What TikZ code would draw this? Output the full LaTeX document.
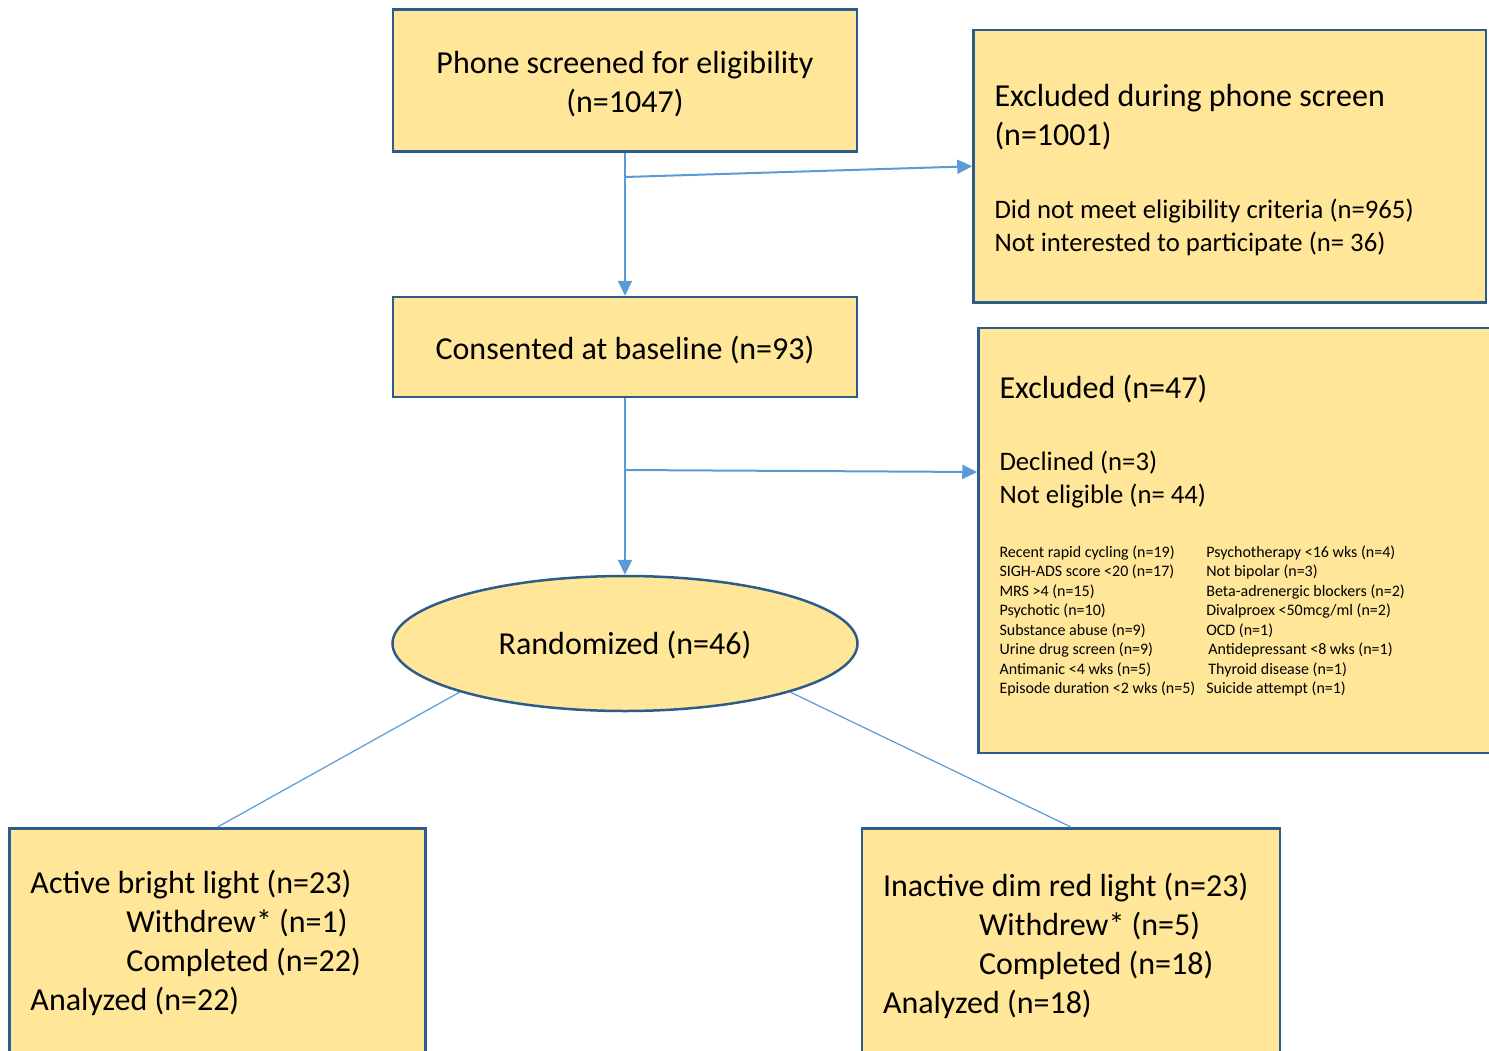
\documentclass[tikz,border=0pt]{standalone}
\usepackage{fontspec}
\setmainfont{Carlito}
\usepackage{xcolor}
\usepackage{tikz}
\usetikzlibrary{shapes.geometric, arrows.meta}
\definecolor{boxfill}{HTML}{FFE699}
\definecolor{boxline}{HTML}{2E5C8A}
\definecolor{arrowblue}{HTML}{5B9BD5}
\newcommand{\bigtxt}{\fontsize{32}{39}\selectfont}
\newcommand{\medtxt}{\fontsize{26.7}{33}\selectfont}
\newcommand{\smalltxt}{\fontsize{16}{19.5}\selectfont}
\newcommand{\topstrut}[1]{\rule{0pt}{#1}}
\tikzstyle{process} = [rectangle, minimum width=464pt, inner sep=0pt, align=center, font=\bigtxt, draw=boxline, line width=2.5pt, fill=boxfill]
\tikzstyle{textbox} = [rectangle, inner xsep=21pt, inner ysep=0pt, align=flush left, font=\bigtxt, draw=boxline, line width=2.5pt, fill=boxfill]
\tikzstyle{startstop} = [ellipse, minimum width=465pt, minimum height=135pt, inner sep=0pt, font=\bigtxt, draw=boxline, line width=2.5pt, fill=boxfill]
\tikzstyle{arrow} = [line width=2pt, -{Triangle[length=15pt,width=14pt]}, draw=arrowblue]
\tikzstyle{thinline} = [line width=1.2pt, draw=arrowblue]

\begin{document}
\begin{tikzpicture}[x=1pt, y=-1pt]
		\useasboundingbox (0,0) rectangle (1489,1051);
		\clip (0,0) rectangle (1489,1051);
		
		% Nodes for main flow
		\node (screen) [process, minimum height=142pt] at (625,80.5) {\topstrut{28.5pt}Phone screened for eligibility\\(n=1047)};
		\node (consent) [process, minimum height=100pt] at (625,347) {\topstrut{30pt}Consented at baseline (n=93)};
		\node (rand) [startstop] at (625,643.5) {\topstrut{27pt}Randomized (n=46)};
		
		% Nodes for exclusions
		\node (excl1) [textbox, minimum width=512.5pt, minimum height=272.5pt, text width=470.5pt] at (1229.75,166.25) {%
			\topstrut{29.5pt}Excluded during phone screen\\(n=1001)\par
			\vspace{39.6pt}
			{\medtxt Did not meet eligibility criteria (n=965)\\Not interested to participate (n= 36)\par}};
		\node (excl2) [textbox, minimum width=540pt, minimum height=425pt, text width=498pt] at (1248.5,540.5) {%
			Excluded (n=47)\par
			\vspace{38.6pt}
			{\medtxt Declined (n=3)\\Not eligible (n= 44)\par}
			\vspace{34pt}
			{\smalltxt\begin{tabular}[t]{@{}l@{\hspace{11pt}}l@{}}
				Recent rapid cycling (n=19) & Psychotherapy <16 wks (n=4)\\
				SIGH-ADS score <20 (n=17) & Not bipolar (n=3)\\
				MRS >4 (n=15) & Beta-adrenergic blockers (n=2)\\
				Psychotic (n=10) & Divalproex <50mcg/ml (n=2)\\
				Substance abuse (n=9) & OCD (n=1)\\
				Urine drug screen (n=9) & \hspace{2pt}Antidepressant <8 wks (n=1)\\
				Antimanic <4 wks (n=5) & \hspace{2pt}Thyroid disease (n=1)\\
				Episode duration <2 wks (n=5) & Suicide attempt (n=1)\rule[-12pt]{0pt}{0pt}
			\end{tabular}\par}};
		
		% Nodes for study arms
		\node (active) [textbox, minimum width=416pt, minimum height=230pt, text width=374pt] at (217.5,943.3) {%
			Active bright light (n=23)\\
			\hspace*{96pt}Withdrew* (n=1)\\
			\hspace*{96pt}Completed (n=22)\\
			Analyzed (n=22)\par};
		\node (inactive) [textbox, minimum width=418pt, minimum height=235pt, text width=376pt] at (1071,945.8) {%
			Inactive dim red light (n=23)\\
			\hspace*{96pt}Withdrew* (n=5)\\
			\hspace*{96pt}Completed (n=18)\\
			Analyzed (n=18)\par};
		
		% Split points
		\coordinate (split1) at (625,177);
		\coordinate (split2) at (625,470);
		
		% Arrows for main flow
		\draw [arrow] (screen) -- (consent);
		\draw [arrow] (consent) -- (rand);
		
		% Arrows to exclusions
		\draw [arrow] (split1) -- (excl1.west);
		\draw [arrow] (split2) -- (excl2.west |- 0,472);
		
		% Lines to study arms
		\draw [thinline] (rand.south west) -- (active.north);
		\draw [thinline] (rand.south east) -- (inactive.north);
		
	\end{tikzpicture}
\end{document}
